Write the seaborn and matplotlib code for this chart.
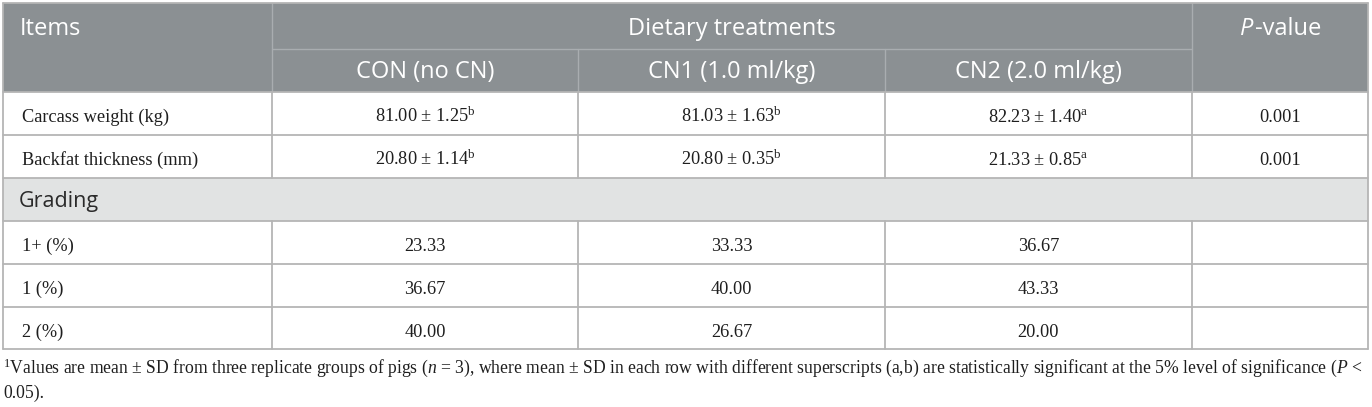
import matplotlib.pyplot as plt
import seaborn as sns
from matplotlib.patches import Rectangle

# table content
item_header = "Items"
group_header = "Dietary treatments"
treatments = ["CON (no CN)", "CN1 (1.0 ml/kg)", "CN2 (2.0 ml/kg)"]
row_labels = ["Carcass weight (kg)", "Backfat thickness (mm)"]
means = [["81.00", "81.03", "82.23"], ["20.80", "20.80", "21.33"]]
sds = [["1.25", "1.63", "1.40"], ["1.14", "0.35", "0.85"]]
letters = [["b", "b", "a"], ["b", "b", "a"]]
p_values = ["0.001", "0.001"]
section = "Grading"
grade_labels = ["1+ (%)", "1 (%)", "2 (%)"]
grade_values = [["23.33", "33.33", "36.67"],
                ["36.67", "40.00", "43.33"],
                ["40.00", "26.67", "20.00"]]
footnote = [
    "$^{1}$Values are mean \u00b1 SD from three replicate groups of pigs ($n$ = 3), "
    "where mean \u00b1 SD in each row with different superscripts (a,b) are statistically "
    "significant at the 5% level of significance ($P$ <",
    "0.05).",
]

sns.set_theme(style="white")
plt.rcParams["mathtext.fontset"] = "custom"
plt.rcParams["mathtext.rm"] = "Liberation Serif"
plt.rcParams["mathtext.it"] = "Liberation Serif:italic"

head_bg = "#8b9093"
sect_bg = "#e1e3e3"
line_c = "#b5b5b5"
head_line = "#a9adb0"
txt_c = "#1e1e1e"
sans = "Open Sans"
serif = "Liberation Serif"

fig = plt.figure(figsize=(13.72, 4.07), dpi=100)
ax = fig.add_axes([0, 0, 1, 1])
ax.set_xlim(0, 1372)
ax.set_ylim(407, 0)
ax.axis("off")

xs = [3, 272, 578, 885, 1192, 1368]
ys = [3, 49, 92, 135, 178, 221, 264, 307, 349]
cx = [(xs[i] + xs[i + 1]) / 2 for i in range(len(xs) - 1)]

# backgrounds
ax.add_patch(Rectangle((xs[0], ys[0]), xs[-1] - xs[0], ys[2] - ys[0], color=head_bg, lw=0))
ax.add_patch(Rectangle((xs[0], ys[4]), xs[-1] - xs[0], ys[5] - ys[4], color=sect_bg, lw=0))

# header lines
ax.plot([xs[1], xs[1]], [ys[0], ys[2]], color=head_line, lw=1)
ax.plot([xs[4], xs[4]], [ys[0], ys[2]], color=head_line, lw=1)
ax.plot([xs[1], xs[4]], [ys[1], ys[1]], color=head_line, lw=1)
for x in xs[2:4]:
    ax.plot([x, x], [ys[1], ys[2]], color=head_line, lw=1)

# body lines
for y in ys[2:]:
    ax.plot([xs[0], xs[-1]], [y, y], color=line_c, lw=1.3)
for x in xs[1:-1]:
    ax.plot([x, x], [ys[2], ys[4]], color=line_c, lw=1.3)
    ax.plot([x, x], [ys[5], ys[8]], color=line_c, lw=1.3)
ax.plot([xs[0], xs[0]], [ys[0], ys[8]], color=line_c, lw=1.3)
ax.plot([xs[-1], xs[-1]], [ys[0], ys[8]], color=line_c, lw=1.3)
ax.plot([xs[0], xs[-1]], [ys[0], ys[0]], color=line_c, lw=1.3)

# header text
hkw = dict(color="white", fontsize=17, family=sans, va="baseline")
ax.text(20, 35, item_header, ha="left", **hkw)
ax.text((xs[1] + xs[4]) / 2, 35, group_header, ha="center", **hkw)
for i, t in enumerate(treatments):
    ax.text(cx[i + 1], 78, t, ha="center", **hkw)

# P-value header: italic P followed by "-value", centred as a whole
renderer = fig.canvas.get_renderer()
tp = ax.text(0, 35, "P", ha="left", style="italic", **hkw)
tv = ax.text(0, 35, "-value", ha="left", **hkw)
wp = tp.get_window_extent(renderer).width
wv = tv.get_window_extent(renderer).width
start = cx[4] - (wp + wv) / 2
tp.set_x(start)
tv.set_x(start + wp + 1)

# body rows
bkw = dict(color=txt_c, fontsize=13.2, family=serif, va="baseline")
for r, lab in enumerate(row_labels):
    yb = ys[2 + r] + 30
    ax.text(22, yb, lab, ha="left", **bkw)
    for c in range(3):
        s = f"{means[r][c]} \u00b1 {sds[r][c]}$^{{\\mathrm{{{letters[r][c]}}}}}$"
        ax.text(cx[c + 1], yb, s, ha="center", **bkw)
    ax.text(cx[4], yb, p_values[r], ha="center", **bkw)

ax.text(19, 207, section, ha="left", color="#2a2a2a", fontsize=15.5, family=sans, va="baseline")

for r, lab in enumerate(grade_labels):
    yb = ys[5 + r] + 30
    ax.text(22, yb, lab, ha="left", **bkw)
    for c in range(3):
        ax.text(cx[c + 1], yb, grade_values[r][c], ha="center", **bkw)

# footnote
fkw = dict(bkw, fontsize=12.7)
ax.text(3, 373, footnote[0], ha="left", **fkw)
ax.text(3, 398, footnote[1], ha="left", **fkw)

fig.savefig("out.png", dpi=100, facecolor="white")
